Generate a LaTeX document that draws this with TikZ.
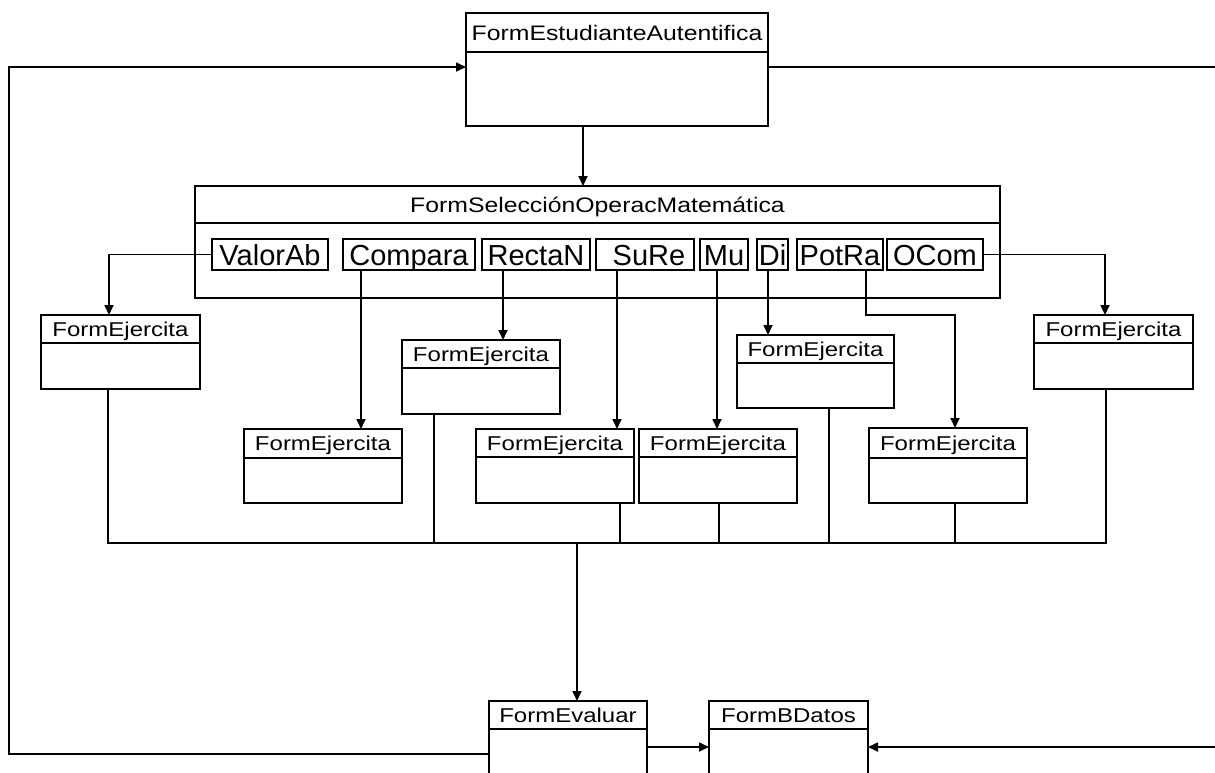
\documentclass[tikz,border=0pt]{standalone}
\usepackage{fontspec}
\setmainfont{Liberation Sans}
\newfontfamily\formfont[FakeStretch=1.2]{Liberation Sans}
\newfontfamily\bigtitlefont[FakeStretch=1.18]{Liberation Sans}
\usetikzlibrary{calc,arrows.meta}

% A form window: name, left, top, width, height, header height, caption
\newcommand\formbox[8][hdr]{%
  \node[frame, minimum width=#5pt, minimum height=#6pt] (#2) at (#3,#4) {};
  \draw ($(#2.north west)+(0,#7)$) -- ($(#2.north east)+(0,#7)$);
  \node[#1] (#2-title) at ($(#2.north)+(0,#7/2)$) {#8};
}

\begin{document}
\begin{tikzpicture}[x=1pt,y=-1pt,
  line width=1.7pt,
  frame/.style={draw, rectangle, inner sep=0pt, outer sep=0pt, anchor=north west},
  button/.style={draw, rectangle, inner sep=0pt, outer sep=0pt, minimum height=31pt,
    font=\fontsize{29}{29}\selectfont, text height=21pt, text depth=0pt},
  hdr/.style={inner sep=0pt, font=\formfont\fontsize{20}{20}\selectfont,
    text height=14.3pt, text depth=0pt},
  bighdr/.style={inner sep=0pt, font=\bigtitlefont\fontsize{21}{21}\selectfont,
    text height=15pt, text depth=0pt},
  flow/.style={-{Triangle[length=10pt,width=9pt]}}
]
\useasboundingbox (0,0) rectangle (1215,772);
\clip (0,0) rectangle (1215,772);

% main windows
\formbox[bighdr]{fea}{466}{13}{302}{113}{39}{FormEstudianteAutentifica}
\formbox[bighdr]{sel}{195}{186}{805}{112}{37}{FormSelecciónOperacMatemática}

% operation buttons
\node[button, minimum width=116pt] (valorab) at (270,254.5) {ValorAb};
\node[button, minimum width=132pt] (compara) at (409,254.5) {Compara};
\node[button, minimum width=108pt] (rectan)  at (536,254.5) {RectaN};
\node[button, minimum width=98pt]  (sure)    at (645,254.5) {\hspace*{8pt}SuRe};
\node[button, minimum width=48pt]  (mu)      at (724,254.5) {Mu};
\node[button, minimum width=31pt]  (di)      at (772.5,254.5) {Di};
\node[button, minimum width=86pt]  (potra)   at (840,254.5) {PotRa};
\node[button, minimum width=96pt]  (ocom)    at (935,254.5) {OCom};

% exercise windows
\formbox{ej1}{41}{315}{159}{74}{28}{FormEjercita}
\formbox{ej2}{244}{429}{158}{74}{29}{FormEjercita}
\formbox{ej3}{402}{340}{158}{74}{28}{FormEjercita}
\formbox{ej4}{476}{429}{158}{74}{28}{FormEjercita}
\formbox{ej5}{639}{429}{158}{74}{28}{FormEjercita}
\formbox{ej6}{737}{335}{157}{73}{28}{FormEjercita}
\formbox{ej7}{869}{428}{158}{75}{30}{FormEjercita}
\formbox{ej8}{1034}{315}{159}{74}{28}{FormEjercita}

% evaluation and database windows
\formbox{evaluar}{489}{701}{158}{100}{28}{FormEvaluar}
\formbox{bdatos}{709}{701}{159}{100}{28}{FormBDatos}

% login -> selection
\draw[flow] ($(fea.south west)+(117,0)$) -- ($(sel.north west)+(388,0)$);

% buttons -> exercise windows
\draw[flow] (valorab.west) -| ($(ej1.north west)+(68,0)$);
\draw[flow] ($(compara.south)+(-48,0)$) -- ($(ej2.north west)+(117,0)$);
\draw[flow] ($(rectan.south)+(-33,0)$) -- ($(ej3.north west)+(101,0)$);
\draw[flow] ($(sure.south)+(-28,0)$) -- ($(ej4.north west)+(141,0)$);
\draw[flow] ($(mu.south)+(-7,0)$) -- ($(ej5.north west)+(78,0)$);
\draw[flow] ($(di.south)+(-4.5,0)$) -- ($(ej6.north west)+(31,0)$);
\draw[flow] ($(potra.south)+(26,0)$) |- ($(ej7.north west)+(86,-113)$)
  -- ($(ej7.north west)+(86,0)$);
\draw[flow] (ocom.east) -| ($(ej8.north west)+(71,0)$);

% exercise windows -> common bus
\coordinate (bus) at (577,543);
\draw ($(ej1.south west)+(67,0)$) |- ($(ej8.south west)+(72,154)$)
  -- ($(ej8.south west)+(72,0)$);
\draw ($(ej3.south west)+(32,0)$) coordinate (d3) -- (d3 |- bus);
\draw ($(ej4.south west)+(144,0)$) coordinate (d4) -- (d4 |- bus);
\draw ($(ej5.south west)+(80,0)$) coordinate (d5) -- (d5 |- bus);
\draw ($(ej6.south west)+(92,0)$) coordinate (d6) -- (d6 |- bus);
\draw ($(ej7.south west)+(86,0)$) coordinate (d7) -- (d7 |- bus);

% bus -> evaluation
\draw[flow] (bus) -- (bus |- evaluar.north);

% evaluation -> database, and the incoming link from the right
\draw[flow] ($(evaluar.north east)+(0,46)$) -- ($(bdatos.north west)+(0,46)$);
\coordinate (rightin) at (1215,747);
\draw[flow] (rightin) -- ($(bdatos.north east)+(0,46)$);

% return loop to the login window
\coordinate (loopcorner) at (9,67);
\draw[flow] ($(evaluar.north west)+(0,53)$) -| (loopcorner) -- ($(fea.north west)+(0,54)$);
\coordinate (rightout) at (1215,67);
\draw ($(fea.north east)+(0,54)$) -- (rightout);
\end{tikzpicture}
\end{document}
